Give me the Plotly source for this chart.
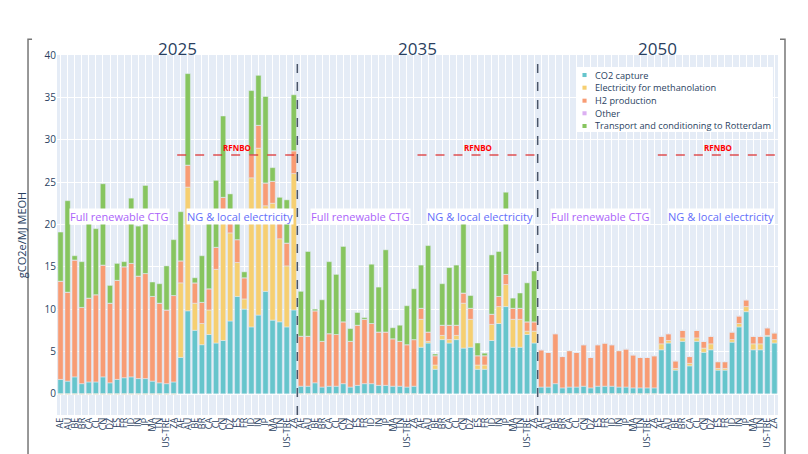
import plotly.graph_objects as go

countries = ["AE", "AU", "BE", "BR", "CA", "CL", "CN", "DZ", "ES", "FR",
             "ID", "IN", "JP", "MA", "TN", "US-TRE", "ZA"]
years = ["2025", "2035", "2050"]
scenarios = ["Full renewable CTG", "NG & local electricity"]
rfnbo_threshold = 28.2

# Order of groups: 2025 full, 2025 NG, 2035 full, 2035 NG, 2050 full, 2050 NG
co2_capture = [
    1.7, 1.5, 2.0, 1.2, 1.4, 1.4, 2.0, 1.3, 1.7, 1.9, 2.0, 1.8, 1.8, 1.5, 1.3, 1.2, 1.4,
    4.3, 9.8, 7.5, 5.8, 7.0, 6.0, 6.3, 8.6, 11.5, 10.0, 7.9, 9.3, 12.1, 8.7, 8.5, 7.9, 9.9,
    0.9, 0.9, 1.3, 0.8, 0.9, 0.9, 1.2, 0.8, 1.0, 1.2, 1.2, 1.0, 1.0, 0.9, 0.9, 0.8, 0.9,
    5.5, 6.0, 2.9, 6.4, 6.0, 6.4, 5.4, 5.5, 2.9, 2.9, 6.3, 8.3, 10.3, 5.5, 5.5, 7.0, 6.0,
    0.8, 0.8, 1.2, 0.7, 0.8, 0.8, 0.9, 0.7, 0.9, 0.9, 0.9, 0.8, 0.8, 0.7, 0.7, 0.7, 0.7,
    5.2, 6.0, 2.8, 6.2, 3.3, 6.2, 4.9, 5.2, 2.8, 2.8, 6.1, 7.9, 9.7, 5.2, 5.2, 6.8, 6.0,
]
electricity = [
    -0.06, -0.06, -0.06, -0.06, -0.06, -0.06, -0.06, -0.06, -0.06, -0.06, -0.06, -0.06, -0.06, -0.06, -0.06, -0.06, -0.06,
    8.8, 14.6, 3.2, 2.5, 2.9, 8.7, 14.4, 10.4, 4.0, 1.2, 17.6, 19.7, 10.1, 13.8, 9.8, 7.2, 16.1,
    -0.04, -0.04, -0.04, -0.04, -0.04, -0.04, -0.04, -0.04, -0.04, -0.04, -0.04, -0.04, -0.04, -0.04, -0.04, -0.04, -0.04,
    3.3, 0.2, 0.5, 0.5, 0.4, 0.5, 5.3, 3.3, 0.5, 0.5, 1.9, 2.0, 2.6, 3.3, 3.3, 0.4, 1.4,
    -0.04, -0.04, -0.04, -0.04, -0.04, -0.04, -0.04, -0.04, -0.04, -0.04, -0.04, -0.04, -0.04, -0.04, -0.04, -0.04, -0.04,
    0.7, 0.3, 0.2, 0.4, 0.3, 0.4, 0.5, 0.7, 0.2, 0.2, 0.3, 0.4, 0.6, 0.7, 0.7, 0.1, 0.4,
]
h2_production = [
    11.6, 10.5, 13.8, 9.0, 9.9, 10.3, 13.2, 9.4, 11.7, 13.1, 13.4, 12.1, 12.4, 10.0, 9.4, 8.7, 10.2,
    2.6, 2.6, 2.4, 2.5, 2.5, 2.6, 2.5, 2.5, 2.7, 2.5, 2.7, 2.7, 2.7, 2.6, 2.5, 2.7, 2.7,
    5.9, 5.9, 8.5, 5.4, 6.2, 6.1, 7.3, 5.4, 7.1, 7.6, 7.1, 6.3, 6.3, 5.6, 5.3, 5.0, 5.5,
    1.3, 1.1, 1.1, 1.2, 1.7, 1.2, 1.2, 1.3, 1.1, 1.1, 1.2, 1.2, 1.2, 1.3, 1.3, 1.1, 1.1,
    4.4, 4.1, 5.9, 3.7, 4.3, 4.1, 4.9, 3.6, 4.9, 5.1, 4.9, 4.3, 4.5, 3.9, 3.6, 3.6, 3.8,
    0.9, 0.8, 0.9, 0.9, 0.8, 0.9, 0.8, 0.9, 0.8, 0.8, 0.9, 0.9, 0.8, 0.9, 0.9, 0.9, 0.8,
]
other = [
    0, 0, 0, 0, 0, 0, 0, 0, 0, 0, 0, 0, 0, 0, 0, 0, 0,
    0, 0, 0, 0, 0, 0, 0, 0, 0, 0, 0, 0, 0, 0, 0, 0, 0,
    0, 0, 0, 0, 0, 0, 0, 0, 0, 0, 0, 0, 0, 0, 0, 0, 0,
    0, 0, 0, 0, 0, 0, 0, 0, 0, 0, 0, 0, 0, 0, 0, 0, 0,
    0, 0, 0, 0, 0, 0, 0, 0, 0, 0, 0, 0, 0, 0, 0, 0, 0,
    0, 0, 0, 0, 0, 0, 0, 0, 0, 0, 0, 0, 0, 0, 0, 0, 0,
]
transport = [
    5.8, 10.8, 0.5, 5.4, 8.8, 7.8, 9.6, 2.1, 2.0, 0.6, 7.7, 5.9, 10.4, 1.7, 2.3, 5.2, 6.6,
    5.8, 10.8, 0.6, 5.5, 8.8, 7.9, 9.6, 2.1, 1.9, 0.7, 7.6, 5.9, 10.2, 1.6, 2.4, 5.1, 6.6,
    5.3, 10.0, 0.2, 4.9, 8.5, 7.1, 8.9, 1.5, 1.5, 0.2, 7.0, 5.3, 9.7, 1.3, 1.9, 4.6, 6.0,
    5.1, 10.2, 0.2, 4.9, 6.8, 7.1, 8.3, 1.5, 1.5, 0.3, 7.0, 5.3, 9.7, 1.2, 1.8, 4.6, 6.0,
    0, 0, 0, 0, 0, 0, 0, 0, 0, 0, 0, 0, 0, 0, 0, 0, 0,
    0, 0, 0, 0, 0, 0, 0, 0, 0, 0, 0, 0, 0, 0, 0, 0, 0,
]

series_names = ["CO2 capture", "Electricity for methanolation", "H2 production",
                "Other", "Transport and conditioning to Rotterdam"]
series_values = [co2_capture, electricity, h2_production, other, transport]
colors = ["rgb(102, 197, 204)", "rgb(246, 207, 113)", "rgb(248, 156, 116)",
          "rgb(220, 176, 242)", "rgb(135, 197, 95)"]

n_c = len(countries)
n_groups = len(years) * len(scenarios)
x_pos = list(range(n_c * n_groups))
tick_labels = countries * n_groups

fig = go.Figure()
for name, vals, col in zip(series_names, series_values, colors):
    fig.add_trace(go.Bar(x=x_pos, y=vals, name=name, marker_color=col,
                         showlegend=False))

shapes = []
annotations = []
font_family = "Open Sans, verdana, arial, sans-serif"

# year separators
for k in range(1, len(years)):
    xb = k * 2 * n_c - 0.5
    shapes.append(dict(type="line", xref="x", yref="paper", x0=xb, x1=xb, y0=0, y1=1,
                       line=dict(color="#4a5568", width=1.5, dash="dash")))

for k, yr in enumerate(years):
    start = k * 2 * n_c
    annotations.append(dict(x=start + n_c - 0.5, y=1.019, xref="x", yref="paper",
                            text=yr, showarrow=False, yanchor="middle",
                            font=dict(size=17, color="#2a3f5f")))
    # scenario labels
    annotations.append(dict(x=start + (n_c - 1) / 2 + 0.4, y=20.9, xref="x", yref="y",
                            text=scenarios[0], showarrow=False, bgcolor="white",
                            borderpad=0, font=dict(size=11, color="#AB63FA")))
    annotations.append(dict(x=start + n_c + (n_c - 1) / 2 + 0.4, y=20.9, xref="x", yref="y",
                            text=scenarios[1], showarrow=False, bgcolor="white",
                            borderpad=0, font=dict(size=11, color="#636EFA")))
    # RFNBO threshold line over NG group
    shapes.append(dict(type="line", xref="x", yref="y", x0=start + n_c - 0.5,
                       x1=start + 2 * n_c - 0.5, y0=rfnbo_threshold, y1=rfnbo_threshold,
                       line=dict(color="rgba(220,40,40,0.8)", width=1.5, dash="dash")))
    annotations.append(dict(x=start + n_c + (n_c - 1) / 2, y=rfnbo_threshold, xref="x", yref="y",
                            text="<b>RFNBO</b>", showarrow=False, yanchor="bottom", yshift=0,
                            font=dict(size=8, color="red")))

# manual compact legend
shapes.append(dict(type="rect", xref="paper", yref="paper", x0=0.7198, x1=0.993,
                   y0=0.786, y1=0.9667, fillcolor="white", line=dict(width=0), layer="above"))
row_y = [0.9444, 0.9092, 0.8731, 0.8381, 0.8028]
for name, col, yy in zip(series_names, colors, row_y):
    shapes.append(dict(type="rect", xref="paper", yref="paper", x0=0.7288, x1=0.7345,
                       y0=yy - 0.0056, y1=yy + 0.0056, fillcolor=col, line=dict(width=0),
                       layer="above"))
    annotations.append(dict(x=0.7434, y=yy, xref="paper", yref="paper", text=name,
                            showarrow=False, xanchor="left", yanchor="middle",
                            font=dict(size=9.2, color="#2a3f5f")))

# outer frame brackets
shapes.append(dict(type="path", xref="paper", yref="paper",
                   path="M -0.0402,-0.2 L -0.0402,1.0436 L -0.0346,1.0436",
                   line=dict(color="#777777", width=1.5)))
shapes.append(dict(type="path", xref="paper", yref="paper",
                   path="M 1.0097,-0.2 L 1.0097,1.0436 L 1.0028,1.0436",
                   line=dict(color="#777777", width=1.5)))

# page body has an 8px default margin, so the figure is sized to leave room for it
fig.update_layout(
    barmode="relative",
    bargap=0.25,
    width=800, height=446,
    margin=dict(l=49, r=30, t=47, b=39),
    font=dict(family=font_family),
    plot_bgcolor="#E5ECF6",
    paper_bgcolor="white",
    shapes=shapes,
    annotations=annotations,
    showlegend=False,
)
fig.update_xaxes(tickmode="array", tickvals=x_pos, ticktext=tick_labels,
                 tickangle=-90, tickfont=dict(size=9, color="#2a3f5f"),
                 range=[-0.5, len(x_pos) - 0.5], showgrid=True, gridcolor="white",
                 automargin=False)
fig.update_yaxes(range=[-2.5, 40], dtick=5, tickfont=dict(size=10, color="#2a3f5f"),
                 title=dict(text="gCO2e/MJ MEOH", font=dict(size=11, color="#2a3f5f")),
                 gridcolor="white", zerolinecolor="white", zerolinewidth=2,
                 automargin=False)

fig.write_html("out.html")
